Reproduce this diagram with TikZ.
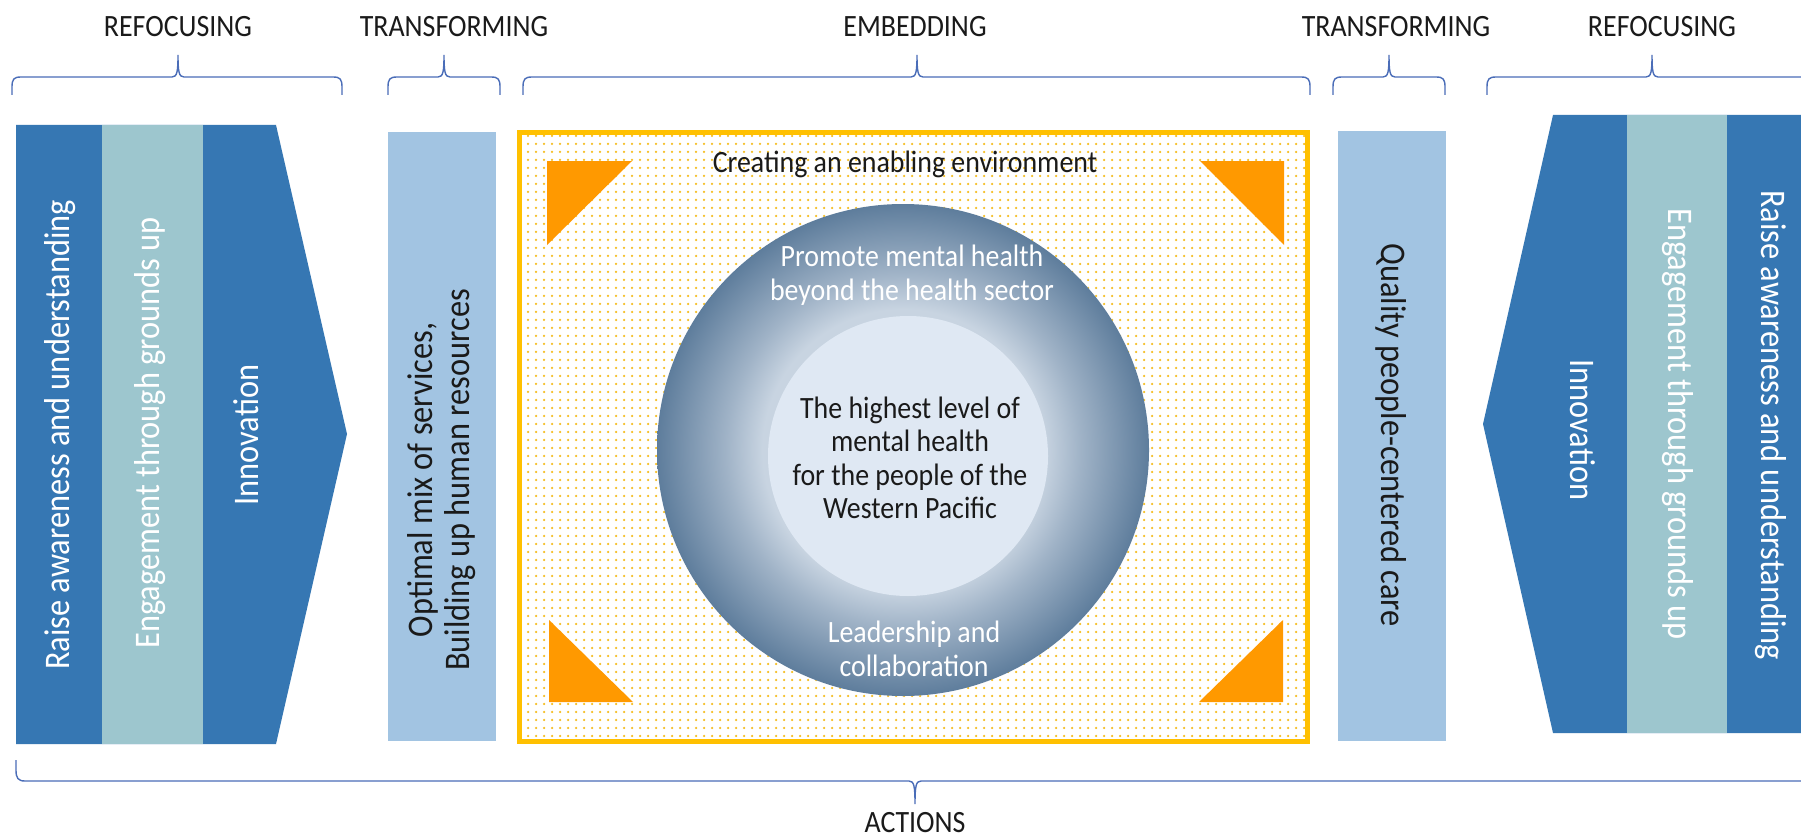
\documentclass[tikz,border=0pt]{standalone}
\usepackage{fontspec}
\setmainfont{Carlito}[FakeStretch=0.9]
\usetikzlibrary{patterns.meta}
\definecolor{dblue}{HTML}{3677B3}
\definecolor{lteal}{HTML}{9DC6CE}
\definecolor{tbox}{HTML}{A2C4E2}
\definecolor{bracec}{HTML}{4A6DB8}
\definecolor{gold}{HTML}{FFC000}
\definecolor{dotc}{HTML}{F5BD20}
\definecolor{orng}{HTML}{FF9900}
\definecolor{cin}{HTML}{DFE8F3}
\definecolor{cb}{HTML}{C8D4E1}
\definecolor{cc}{HTML}{A0B3C7}
\definecolor{cout}{HTML}{5E7D9C}
\definecolor{txt}{HTML}{1A1A1A}
\pgfdeclareradialshading{ringshade}{\pgfpoint{0bp}{0bp}}{color(0bp)=(cb); color(14.3bp)=(cb); color(18bp)=(cc); color(25bp)=(cout); color(50bp)=(cout)}
\newcommand\topbrace[3]{%
  \draw[bracestyle] (#1,95) -- (#1,87) .. controls (#1,79) and (#1+2,77) .. (#1+9,77) -- (#3-6,77) .. controls (#3-1,77) and (#3,72) .. (#3,55) .. controls (#3,72) and (#3+1,77) .. (#3+6,77) -- (#2-9,77) .. controls (#2-2,77) and (#2,79) .. (#2,87) -- (#2,95);}
\begin{document}
\begin{tikzpicture}[x=1pt,y=-1pt,
  hdr/.style={font=\fontsize{31}{34}\selectfont, text=txt, anchor=base, inner sep=0pt},
  vt/.style={font=\fontsize{36}{37}\selectfont, inner sep=0pt},
  mid/.style={font=\fontsize{31}{33.5}\selectfont, inner sep=0pt, align=center},
  bracestyle/.style={draw=bracec, line width=1.4pt},
  tri/.style={fill=orng}]
\useasboundingbox[fill=white] (0,0) rectangle (1801,840);

% headers
\node[hdr] (h1) at (178,37) {REFOCUSING};
\node[hdr] (h2) at (454,37) {TRANSFORMING};
\node[hdr] (h3) at (915,37) {EMBEDDING};
\node[hdr] (h4) at (1396,37) {TRANSFORMING};
\node[hdr] (h5) at (1662,37) {REFOCUSING};

% top braces
\topbrace{12}{342}{178}
\topbrace{388}{500}{444}
\topbrace{523}{1310}{917}
\topbrace{1333}{1445}{1389}
\topbrace{1487}{1817}{1652}

% left chevron
\fill[dblue] (16,125) -- (276,125) -- (347,434) -- (276,744) -- (16,744) -- cycle;
\fill[lteal] (102,125) rectangle (203,744);
\node[vt, text=white, rotate=90] (l1) at (60,435) {Raise awareness and understanding};
\node[vt, text=white, rotate=90] (l2) at (150,433) {Engagement through grounds up};
\node[vt, text=white, rotate=90] (l3) at (246,435) {Innovation};

% left transforming box
\fill[tbox] (388,132) rectangle (496,741);
\node[vt, text=txt, rotate=90, align=center] (t1) at (442,480) {Optimal mix of services,\\Building up human resources};

% embedding box
\fill[white] (519,132) rectangle (1308,742);
\fill[pattern={Dots[distance=8pt,radius=1.25pt]}, pattern color=dotc] (522,135) rectangle (1305,739);
\draw[gold, line width=5pt] (519.5,132.5) rectangle (1307.5,741.5);
\fill[tri] (547,161) -- (632,161) -- (547,245) -- cycle;
\fill[tri] (1200,161) -- (1284,161) -- (1284,245) -- cycle;
\fill[tri] (549,620) -- (549,702) -- (633,702) -- cycle;
\fill[tri] (1283,620) -- (1283,702) -- (1199,702) -- cycle;
\node[mid, text=txt] (env) at (905,164) {Creating an enabling environment};

% circles
\shade[shading=ringshade] (903,450) circle[radius=246];
\fill[cin] (908,456) circle[radius=140];
\node[mid, text=white] (promote) at (912,275) {Promote mental health\\beyond the health sector};
\node[mid, text=txt] (core) at (910,458) {The highest level of\\mental health\\for the people of the\\Western Pacific};
\node[mid, text=white] (lead) at (914,649) {Leadership and\\collaboration};

% right transforming box
\fill[tbox] (1338,131) rectangle (1446,741);
\node[vt, text=txt, rotate=-90] (t2) at (1391,435) {Quality people-centered care};

% right chevron
\fill[dblue] (1801,115) -- (1553,115) -- (1483,424) -- (1553,733) -- (1801,733) -- cycle;
\fill[lteal] (1627,115) rectangle (1727,733);
\node[vt, text=white, rotate=-90] (r3) at (1583,430) {Innovation};
\node[vt, text=white, rotate=-90] (r2) at (1678,424) {Engagement through grounds up};
\node[vt, text=white, rotate=-90] (r1) at (1771,425) {Raise awareness and understanding};

% actions brace
\draw[bracestyle] (16,760) -- (16,770) .. controls (16,778) and (18,781) .. (25,781) -- (909,781) .. controls (914,781) and (915,786) .. (915,804) .. controls (915,786) and (916,781) .. (921,781) -- (1830,781);
\node[hdr] (act) at (915,832) {ACTIONS};
\end{tikzpicture}
\end{document}
